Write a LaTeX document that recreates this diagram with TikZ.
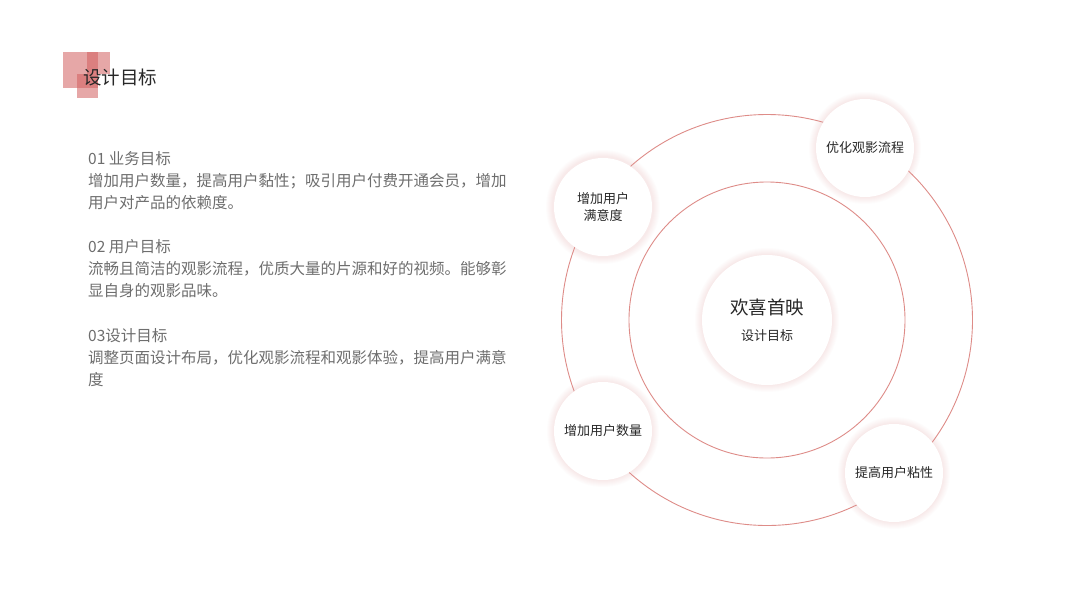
\documentclass[tikz,border=0pt]{standalone}
\usepackage{fontspec}
\setmainfont{Noto Sans CJK SC}
\newfontfamily\cjk{Noto Sans CJK SC}
\usepackage{xcolor}
\usetikzlibrary{positioning}
\definecolor{ringred}{RGB}{222,140,136}
\definecolor{glowpink}{RGB}{232,170,170}
\definecolor{iconred}{RGB}{210,95,95}
\definecolor{bodygray}{RGB}{110,110,110}
\definecolor{textdark}{RGB}{40,40,40}
\tikzset{
    ring/.style={draw=ringred, line width=0.9pt},
    tile/.style={fill=iconred, fill opacity=0.55},
    bubble/.style={
        circle,
        fill=white,
        inner sep=0pt,
        minimum size=98pt,
        align=center,
        text=textdark,
        font=\cjk\fontsize{13}{17}\selectfont
    },
    hub/.style={bubble, minimum size=130pt},
    goal/.style={
        anchor=base west,
        align=left,
        inner sep=0pt,
        text=bodygray,
        font=\cjk\fontsize{15.5}{22.2}\selectfont
    }
}

\begin{document}
\begin{tikzpicture}[x=1pt, y=-1pt]
    \useasboundingbox[fill=white] (0,0) rectangle (1066,600);

    % title with the little tiles
    \fill[tile] (63,52) rectangle (98,88);
    \fill[tile] (87,52) rectangle (110,74);
    \fill[tile] (77,74) rectangle (98,98);
    \node[anchor=west, inner sep=0pt, text=textdark, font=\cjk\fontsize{18.5}{20}\selectfont] (title) at (83,77) {设计目标};

    % goals text (base = last line)
    \node[goal] (goal1) at (88,208.4) {01 业务目标\\增加用户数量，提高用户黏性；吸引用户付费开通会员，增加\\用户对产品的依赖度。};
    \node[goal] (goal2) at (88,296.4) {02 用户目标\\流畅且简洁的观影流程，优质大量的片源和好的视频。能够彰\\显自身的观影品味。};
    \node[goal] (goal3) at (88,385.4) {03设计目标\\调整页面设计布局，优化观影流程和观影体验，提高用户满意\\度};

    % rings
    \coordinate (c) at (767,320);
    \draw[ring] (c) circle (205.5pt);
    \draw[ring] (c) circle (138pt);

    % soft glow behind every bubble
    \foreach \x/\y/\r in {767/320/65, 865/148/49, 603/207/50, 603/431/49, 894/473/49}
        \foreach \d in {1,...,7}
            \fill[glowpink, opacity=0.03] (\x,\y) circle ({\r pt+\d pt});

    \node[hub] (hub) at (c) {{\fontsize{18.5}{20}\selectfont 欢喜首映}\\[9pt]设计目标};
    \node[bubble] (flow) at (865,148) {优化观影流程};
    \node[bubble] (satis) at (603,207) {增加用户\\满意度};
    \node[bubble] (users) at (603,431) {增加用户数量};
    \node[bubble] (stick) at (894,473) {提高用户粘性};
\end{tikzpicture}
\end{document}
